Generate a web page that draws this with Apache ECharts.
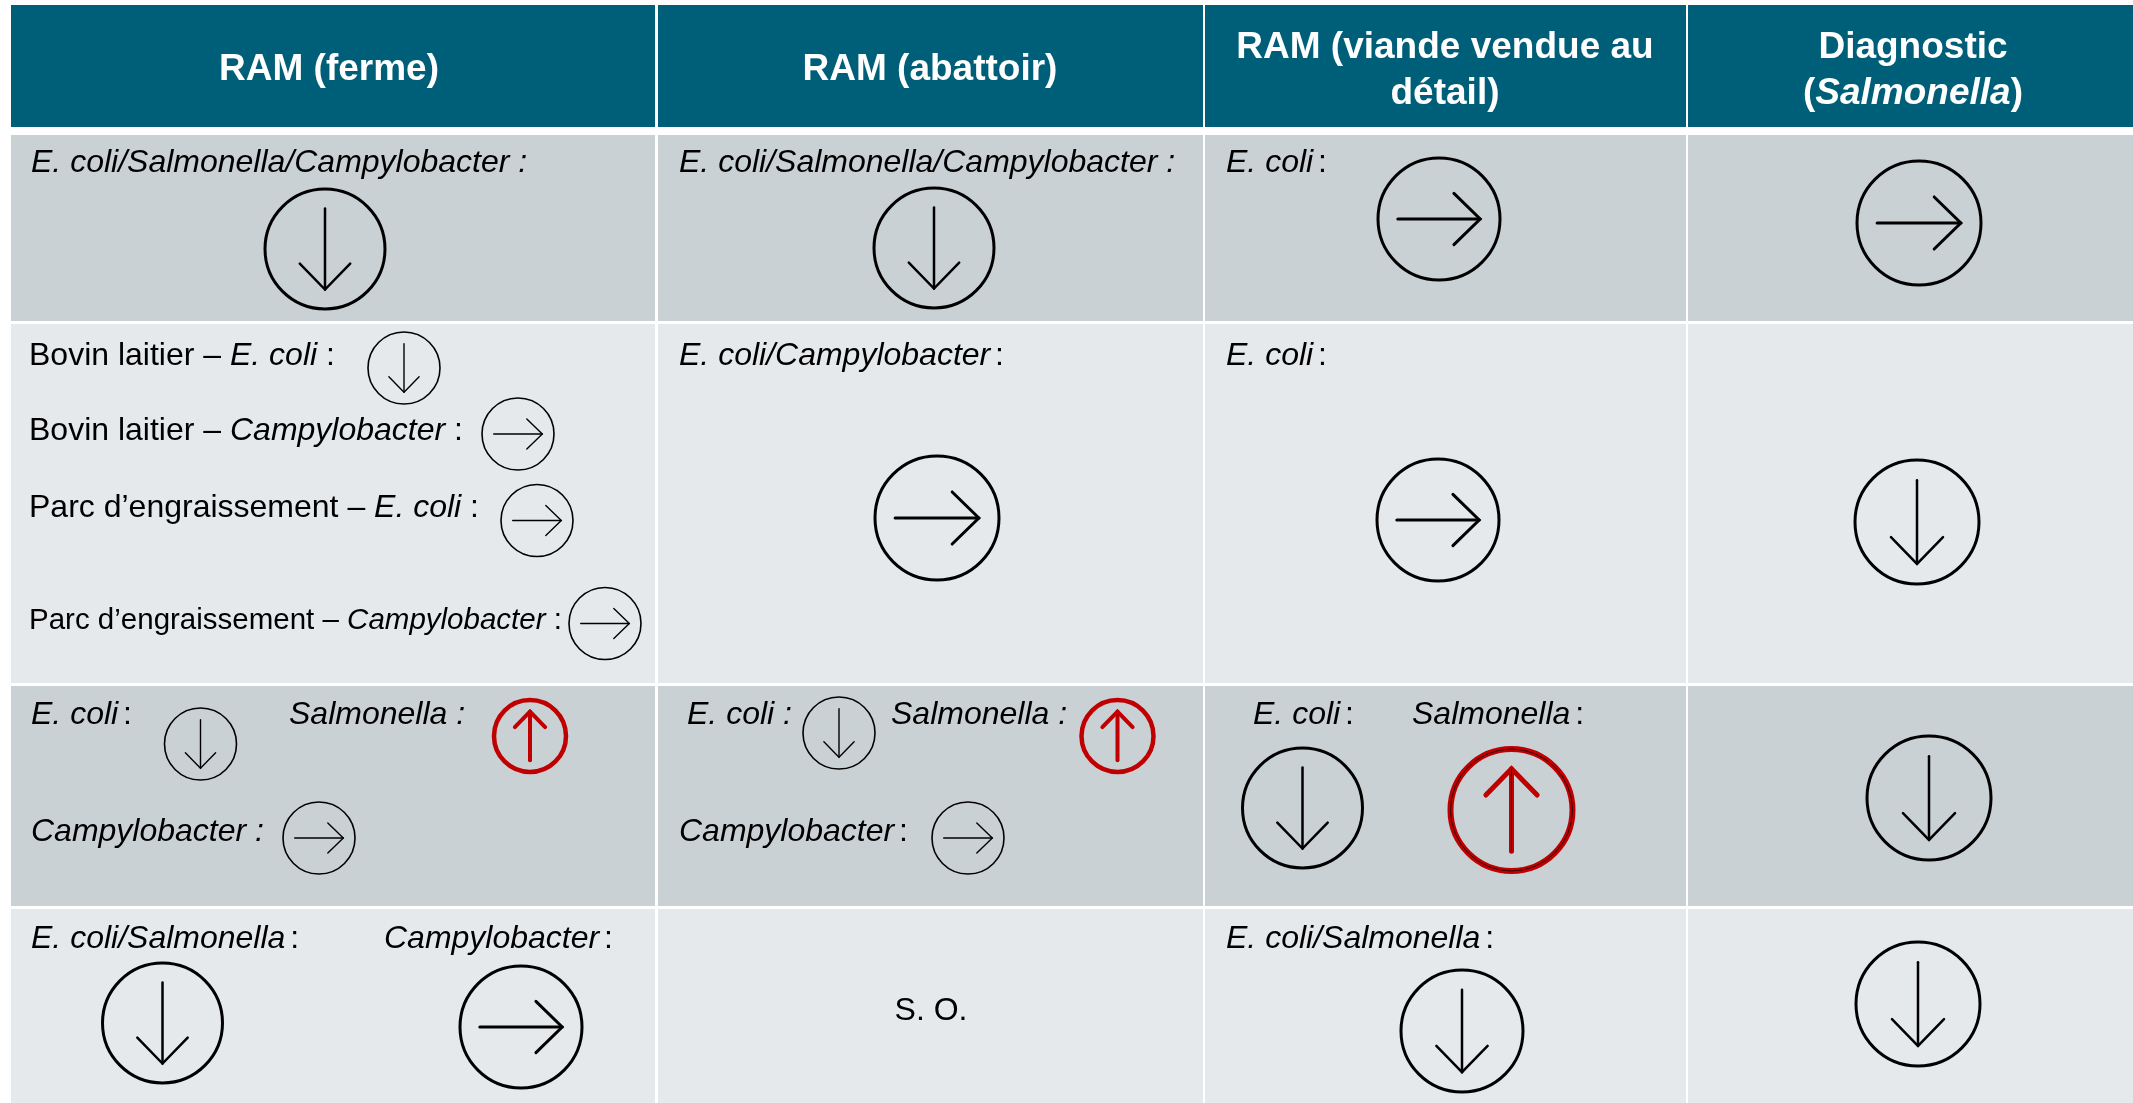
<!DOCTYPE html>
<html><head><meta charset="utf-8">
<style>html,body{margin:0;padding:0;background:#fff}#c{width:2133px;height:1103px}</style>
<script src="https://cdn.jsdelivr.net/npm/echarts@6/dist/echarts.min.js"></script>
</head><body><div id="c"></div>
<script>
// ---- content ----
const headers = ['RAM (ferme)', 'RAM (abattoir)', 'RAM (viande vendue au\ndétail)', 'Diagnostic\n(*Salmonella*)'];
const specNotApplicable = 'S. O.';
// *...* marks italic text, ^ marks a narrow word space
const cellLabels = [
  '*E. coli/Salmonella/Campylobacter :*', '*E. coli/Salmonella/Campylobacter :*', '*E. coli*^:',
  'Bovin laitier – *E. coli* :', 'Bovin laitier – *Campylobacter* :', 'Parc d’engraissement – *E. coli* :',
  'Parc d’engraissement – *Campylobacter* :', '*E. coli/Campylobacter*^:', '*E. coli*^:',
  '*E. coli*^:', '*Salmonella :*', '*Campylobacter :*',
  '*E. coli :*', '*Salmonella :*', '*Campylobacter*^:',
  '*E. coli*^:', '*Salmonella*^:',
  '*E. coli/Salmonella*^:', '*Campylobacter*^:', specNotApplicable, '*E. coli/Salmonella*^:'
];
const arrowDirections = [
  'down', 'down', 'right', 'right',
  'down', 'right', 'right', 'right', 'right', 'right', 'down',
  'down', 'up', 'right', 'down', 'up', 'right', 'down', 'up', 'down',
  'down', 'right', 'down', 'down'
];

// ---- layout (page units of the hidden axes) ----
const colEdges = [[11, 655], [658, 1203], [1205, 1686], [1688, 2133]];
const rowEdges = [[135, 321], [324, 683], [686, 906], [909, 1103]];
const headerBand = [5, 127];
const rowTones = ['#CAD1D4', '#E6E9EC', '#CAD1D4', '#E6E9EC'];
const headerPlace = [[329, 69.5], [930, 69.5], [1445, 71], [1913, 71]];
// x, y, fontSize, anchor
const labelPlace = [
  [31,163,32,0],[679,163,32,0],[1226,163,32,0],
  [29,356,32,0],[29,431,32,0],[29,508,32,0],
  [29,621,29.5,0],[679,356,32,0],[1226,356,32,0],
  [31,715,32,0],[289,715,32,0],[31,832,32,0],
  [687,715,32,0],[891,715,32,0],[679,832,32,0],
  [1253,715,32,0],[1412,715,32,0],
  [31,939,32,0],[384,939,32,0],[931,1011,32,1],[1226,939,32,0]
];
// cx, cy, r, ring width, arrow width, tone (0 black, 1 red, 2 red with dark core)
const arrowPlace = [
  [325,249,60,3,2.5,0],[934,248,60,3,2.5,0],[1439,219,61,3,3,0],[1919,223,62,3,3,0],
  [404,368,36,1.6,1.4,0],[518,434,36,1.6,1.4,0],[537,520.5,36,1.6,1.4,0],[605,623.5,36,1.6,1.4,0],
  [937,518,62,3,3,0],[1438,520,61,3,3,0],[1917,522,62,3,2.5,0],
  [200.5,744,36,1.6,1.4,0],[530,736,36,4.5,4,1],[319,838,36,1.6,1.4,0],
  [839,733,36,1.6,1.4,0],[1117.5,736,36,4.5,4,1],[968,838,36,1.6,1.4,0],
  [1302.5,808,60,3,2.5,0],[1511.5,810,61,6,5,2],[1929,798,62,3,2.5,0],
  [162.5,1023,60,3,2.5,0],[521,1027,61,3,3,0],[1462,1031,61,3,2.5,0],[1918,1004,62,3,2.5,0]
];

const FONT = '"Liberation Sans", Arial, sans-serif';
const BLACK = '#000000', RED = '#C00000', HEADER = '#005F78';

function toRich(s) {
  return s.split('\n').map(line => line.split('*').map((p, i) => {
    if (p === '') return '';
    if (p[0] === '^') return `{s| }{n|${p.slice(1)}}`;
    return `{${i % 2 ? 'i' : 'n'}|${p}}`;
  }).join('')).join('\n');
}
function richStyles(size, fill, weight, lh) {
  const base = {fontSize: size, fontFamily: FONT, fill: fill, fontWeight: weight, lineHeight: lh};
  return {n: Object.assign({}, base), i: Object.assign({fontStyle: 'italic'}, base),
          s: Object.assign({}, base, {fontSize: size * 0.55})};
}

const rectData = [];
colEdges.forEach(c => {
  rectData.push([c[0], headerBand[0], c[1], headerBand[1], 0]);
  rowEdges.forEach((r, j) => rectData.push([c[0], r[0], c[1], r[1], j + 1]));
});

function renderRect(params, api) {
  const a = api.coord([api.value(0), api.value(1)]);
  const b = api.coord([api.value(2), api.value(3)]);
  const t = api.value(4);
  return {type: 'rect', shape: {x: a[0], y: a[1], width: b[0] - a[0], height: b[1] - a[1]},
          style: {fill: t === 0 ? HEADER : rowTones[t - 1]}};
}
function renderHeader(params, api) {
  const p = api.coord([api.value(0), api.value(1)]);
  return {type: 'text', style: {x: p[0], y: p[1], text: toRich(headers[params.dataIndex]),
    rich: richStyles(37, '#FFFFFF', 'bold', 46), align: 'center', verticalAlign: 'middle'}};
}
function renderLabel(params, api) {
  const p = api.coord([api.value(0), api.value(1)]);
  return {type: 'text', style: {x: p[0], y: p[1], text: toRich(cellLabels[params.dataIndex]),
    rich: richStyles(api.value(2), BLACK, 'normal', 36),
    align: api.value(3) ? 'center' : 'left', verticalAlign: 'middle'}};
}
function renderArrow(params, api) {
  const c = api.coord([api.value(0), api.value(1)]);
  const r = api.size([api.value(2), 0])[0];
  const ring = api.value(3), w = api.value(4), tone = api.value(5);
  const dir = arrowDirections[params.dataIndex];
  const rot = {down: [0, 1], up: [0, -1], right: [1, 0]}[dir];
  const pt = (along, across) => [c[0] + rot[0] * along - rot[1] * across, c[1] + rot[1] * along + rot[0] * across];
  const L = r * 0.675, back = r * 0.43, half = r * 0.42;
  const shaft = [pt(-L, 0), pt(L, 0)];
  const head = [pt(L - back, -half), pt(L, 0), pt(L - back, half)];
  const stroke = tone ? RED : BLACK;
  const kids = [
    {type: 'circle', shape: {cx: c[0], cy: c[1], r: r}, style: {fill: 'none', stroke: stroke, lineWidth: ring}},
    {type: 'polyline', shape: {points: shaft}, style: {fill: 'none', stroke: stroke, lineWidth: w, lineCap: 'round'}},
    {type: 'polyline', shape: {points: head}, style: {fill: 'none', stroke: stroke, lineWidth: w, lineCap: 'round', lineJoin: 'miter'}}
  ];
  if (tone === 2) {
    kids.push({type: 'circle', shape: {cx: c[0], cy: c[1], r: r}, style: {fill: 'none', stroke: '#300000', lineWidth: 1}});
    kids.push({type: 'polyline', shape: {points: shaft}, style: {fill: 'none', stroke: '#300000', lineWidth: 1}});
  }
  return {type: 'group', children: kids};
}

const chart = echarts.init(document.getElementById('c'), null, {renderer: 'canvas'});
const common = {type: 'custom', coordinateSystem: 'cartesian2d', silent: true, clip: false, animation: false};
chart.setOption({
  animation: false,
  backgroundColor: '#FFFFFF',
  grid: {left: 0, right: 0, top: 0, bottom: 0, containLabel: false},
  xAxis: {type: 'value', min: 0, max: 2133, show: false},
  yAxis: {type: 'value', min: 0, max: 1103, inverse: true, show: false},
  tooltip: {show: false},
  series: [
    Object.assign({name: 'cells', renderItem: renderRect, data: rectData, encode: {x: [0, 2], y: [1, 3]}}, common),
    Object.assign({name: 'headers', renderItem: renderHeader, data: headerPlace}, common),
    Object.assign({name: 'labels', renderItem: renderLabel, data: labelPlace}, common),
    Object.assign({name: 'arrows', renderItem: renderArrow, data: arrowPlace}, common)
  ]
});
</script></body></html>
